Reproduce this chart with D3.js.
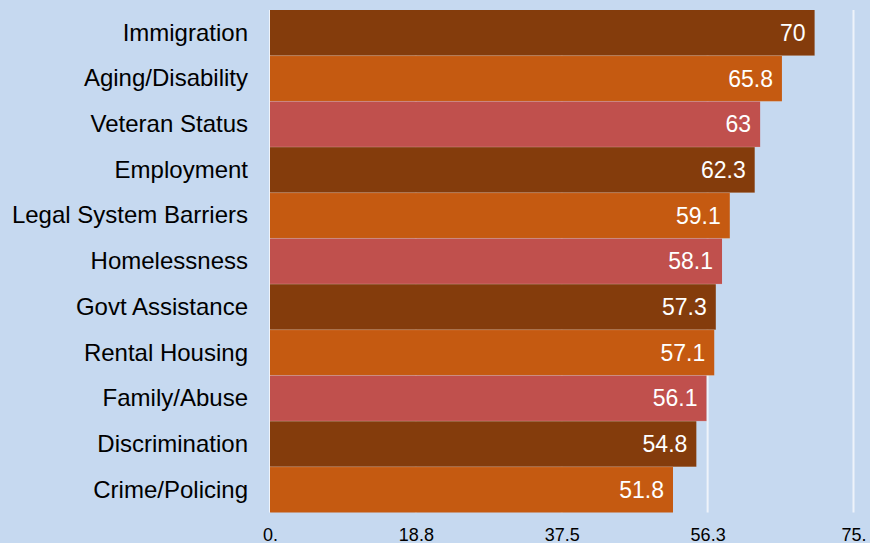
<!DOCTYPE html>
<html>
<head>
<meta charset="utf-8">
<script src="https://cdn.jsdelivr.net/npm/d3@7"></script>
<style>
  html, body { margin: 0; padding: 0; background: #c6d9f0; }
  svg { display: block; font-family: "Liberation Sans", Arial, sans-serif; }
</style>
</head>
<body>
<svg id="chart" width="870" height="543"></svg>
<script>
const categories = ["Immigration", "Aging/Disability", "Veteran Status", "Employment",
  "Legal System Barriers", "Homelessness", "Govt Assistance", "Rental Housing",
  "Family/Abuse", "Discrimination", "Crime/Policing"];
const values = [70, 65.8, 63, 62.3, 59.1, 58.1, 57.3, 57.1, 56.1, 54.8, 51.8];
const valueLabels = ["70", "65.8", "63", "62.3", "59.1", "58.1", "57.3", "57.1", "56.1", "54.8", "51.8"];
const tickValues = [0, 18.75, 37.5, 56.25, 75];
const tickLabels = ["0.", "18.8", "37.5", "56.3", "75."];
const palette = ["#843c0c", "#c55a11", "#c0504d"];

(function () {
  const svg = d3.select("#chart");
  const plotLeft = 270, plotRight = 853.5, plotTop = 10, plotBottom = 512.5;

  const x = d3.scaleLinear().domain([0, 75]).range([plotLeft, plotRight]);
  const y = d3.scaleBand().domain(categories).range([plotTop, plotBottom]).padding(0);

  // vertical gridlines
  svg.append("g").selectAll("line").data(tickValues).join("line")
    .attr("x1", d => x(d)).attr("x2", d => x(d))
    .attr("y1", plotTop).attr("y2", plotBottom)
    .attr("stroke", "#eef3fa").attr("stroke-width", 2);

  // bars
  svg.append("g").selectAll("rect").data(values).join("rect")
    .attr("x", x(0))
    .attr("y", (d, i) => y(categories[i]))
    .attr("width", d => x(d) - x(0))
    .attr("height", y.bandwidth())
    .attr("fill", (d, i) => palette[i % 3]);

  // thin separators between bars
  svg.append("g").selectAll("line").data(values.slice(1)).join("line")
    .attr("x1", x(0))
    .attr("x2", (d, i) => x(Math.max(d, values[i])))
    .attr("y1", (d, i) => y(categories[i + 1]))
    .attr("y2", (d, i) => y(categories[i + 1]))
    .attr("stroke", "#ffffff").attr("stroke-opacity", 0.18).attr("stroke-width", 1);

  // value labels inside bar ends
  svg.append("g").selectAll("text").data(values).join("text")
    .attr("x", d => x(d) - 9)
    .attr("y", (d, i) => y(categories[i]) + y.bandwidth() / 2)
    .attr("dy", "0.35em")
    .attr("text-anchor", "end")
    .attr("fill", "#ffffff")
    .attr("font-size", 23)
    .text((d, i) => valueLabels[i]);

  // category labels
  const yAxis = d3.axisLeft(y).tickSize(0).tickPadding(22);
  const gy = svg.append("g").attr("transform", `translate(${plotLeft},0)`).call(yAxis);
  gy.select(".domain").remove();
  gy.selectAll("text").attr("font-size", 24).attr("fill", "#000")
    .attr("dy", "0.33em")
    .attr("font-family", "Liberation Sans, Arial, sans-serif");

  // value axis
  const xAxis = d3.axisBottom(x).tickValues(tickValues).tickSize(0).tickPadding(0)
    .tickFormat((d, i) => tickLabels[i]);
  const gx = svg.append("g").attr("transform", "translate(0,0)").call(xAxis);
  gx.select(".domain").remove();
  gx.selectAll("text").attr("font-size", 18).attr("fill", "#000")
    .attr("y", 540.5).attr("dy", 0)
    .attr("font-family", "Liberation Sans, Arial, sans-serif");
})();
</script>
</body>
</html>
